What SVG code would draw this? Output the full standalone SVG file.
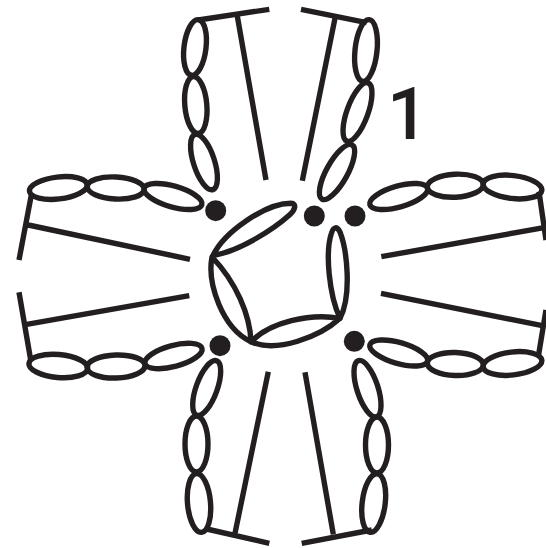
<svg xmlns="http://www.w3.org/2000/svg" width="546" height="548" viewBox="0 0 546 548">
<style>
.s{fill:none;stroke:#231f20;stroke-width:5.4;stroke-linejoin:round}
.d{fill:#231f20}
text{fill:#231f20;font-family:Roboto,"Liberation Sans",sans-serif;font-weight:500;font-size:73px}
</style>
<rect width="546" height="548" fill="#fff"/>
<g id="arm-top" class="s">
<ellipse cx="195" cy="47.5" rx="28" ry="11" transform="rotate(97 195 47.5)"/>
<ellipse cx="195.8" cy="105" rx="28.5" ry="11" transform="rotate(85 195.8 105)"/>
<ellipse cx="204" cy="162" rx="29" ry="10.5" transform="rotate(72 204 162)"/>
<ellipse cx="366" cy="50.5" rx="31" ry="11" transform="rotate(96 366 50.5)"/>
<ellipse cx="357.5" cy="112" rx="31" ry="10.5" transform="rotate(110 357.5 112)"/>
<ellipse cx="337" cy="172" rx="31" ry="10.5" transform="rotate(119 337 172)"/>
<path d="M198.3 20L269.3 9.3M237.3 16L266 180M301 9.3L366.7 22.7M335 18.3L302.3 180.7"/>
</g>
<g id="arm-left" class="s">
<ellipse cx="58.3" cy="188" rx="29" ry="11" transform="rotate(-6.5 58.3 188)"/>
<ellipse cx="115.7" cy="188" rx="28.5" ry="11" transform="rotate(3 115.7 188)"/>
<ellipse cx="173" cy="196.5" rx="30" ry="10.5" transform="rotate(16 173 196.5)"/>
<ellipse cx="58.3" cy="366" rx="29.5" ry="11.5" transform="rotate(5 58.3 366)"/>
<ellipse cx="116" cy="366.5" rx="29" ry="11.5" transform="rotate(-2 116 366.5)"/>
<ellipse cx="173.5" cy="356" rx="29.5" ry="10.5" transform="rotate(-15 173.5 356)"/>
<path d="M31.7 193L19 260M28.3 225L190 259.3M19 292.3L30.7 360M26.7 324.3L189.3 295.7"/>
</g>
<g id="arm-right" class="s">
<ellipse cx="512.5" cy="187" rx="29.5" ry="11.5" transform="rotate(6.5 512.5 187)"/>
<ellipse cx="455.3" cy="185.7" rx="28" ry="11.5" transform="rotate(-3 455.3 185.7)"/>
<ellipse cx="398.7" cy="196.5" rx="30" ry="10.5" transform="rotate(-16 398.7 196.5)"/>
<ellipse cx="512.5" cy="363.5" rx="29.5" ry="11.5" transform="rotate(-6.5 512.5 363.5)"/>
<ellipse cx="455.3" cy="364" rx="28" ry="11.5" transform="rotate(2 455.3 364)"/>
<ellipse cx="398.7" cy="353" rx="30" ry="10.5" transform="rotate(16 398.7 353)"/>
<path d="M539 191.7L546 240M544 227.7L381.3 256.7M381 293.3L542.3 325.7M546 310L538.3 356.7"/>
</g>
<g id="arm-bottom" class="s">
<ellipse cx="206.7" cy="388" rx="29" ry="10.5" transform="rotate(110 206.7 388)"/>
<ellipse cx="196.5" cy="444" rx="28" ry="11.5" transform="rotate(90 196.5 444)"/>
<ellipse cx="199" cy="503" rx="29.5" ry="11.5" transform="rotate(85 199 503)"/>
<ellipse cx="367.5" cy="388.7" rx="29.5" ry="10.5" transform="rotate(72 367.5 388.7)"/>
<ellipse cx="377" cy="445" rx="28" ry="11.5" transform="rotate(90 377 445)"/>
<ellipse cx="373.7" cy="503" rx="29.5" ry="11.5" transform="rotate(97 373.7 503)"/>
<path d="M206.7 529L269.3 543.3M268.3 371.7L235 533.3M301.7 543.3L371.7 530M305 372.3L333.3 534.3"/>
</g>
<g id="dots" class="d">
<circle cx="215.7" cy="210.7" r="10.5"/>
<circle cx="314.3" cy="216" r="10.5"/>
<circle cx="355" cy="216" r="10.5"/>
<circle cx="220" cy="345.7" r="10.5"/>
<circle cx="354.3" cy="341.3" r="10.5"/>
</g>
<g id="centre" class="s">
<path d="M213 255.5C224 232 265 203.5 291 203.3C297 203.5 295 210 290 214.5C274 229 240 251 213 255.5Z"/>
<path d="M340 318.3C329 295 325 252 331.5 233C333.5 226.5 337 226 340 232C347 250 352 295 340 318.3Z"/>
<path d="M212 257C207 283 222 328 251 341.7C250 315 236 282 212 257Z"/>
<path d="M251 341.7C270 322 310 313 340 318.3C320 336.7 276.7 353.3 251 341.7Z"/>
</g>
<text id="label" x="387" y="139">1</text>
</svg>
